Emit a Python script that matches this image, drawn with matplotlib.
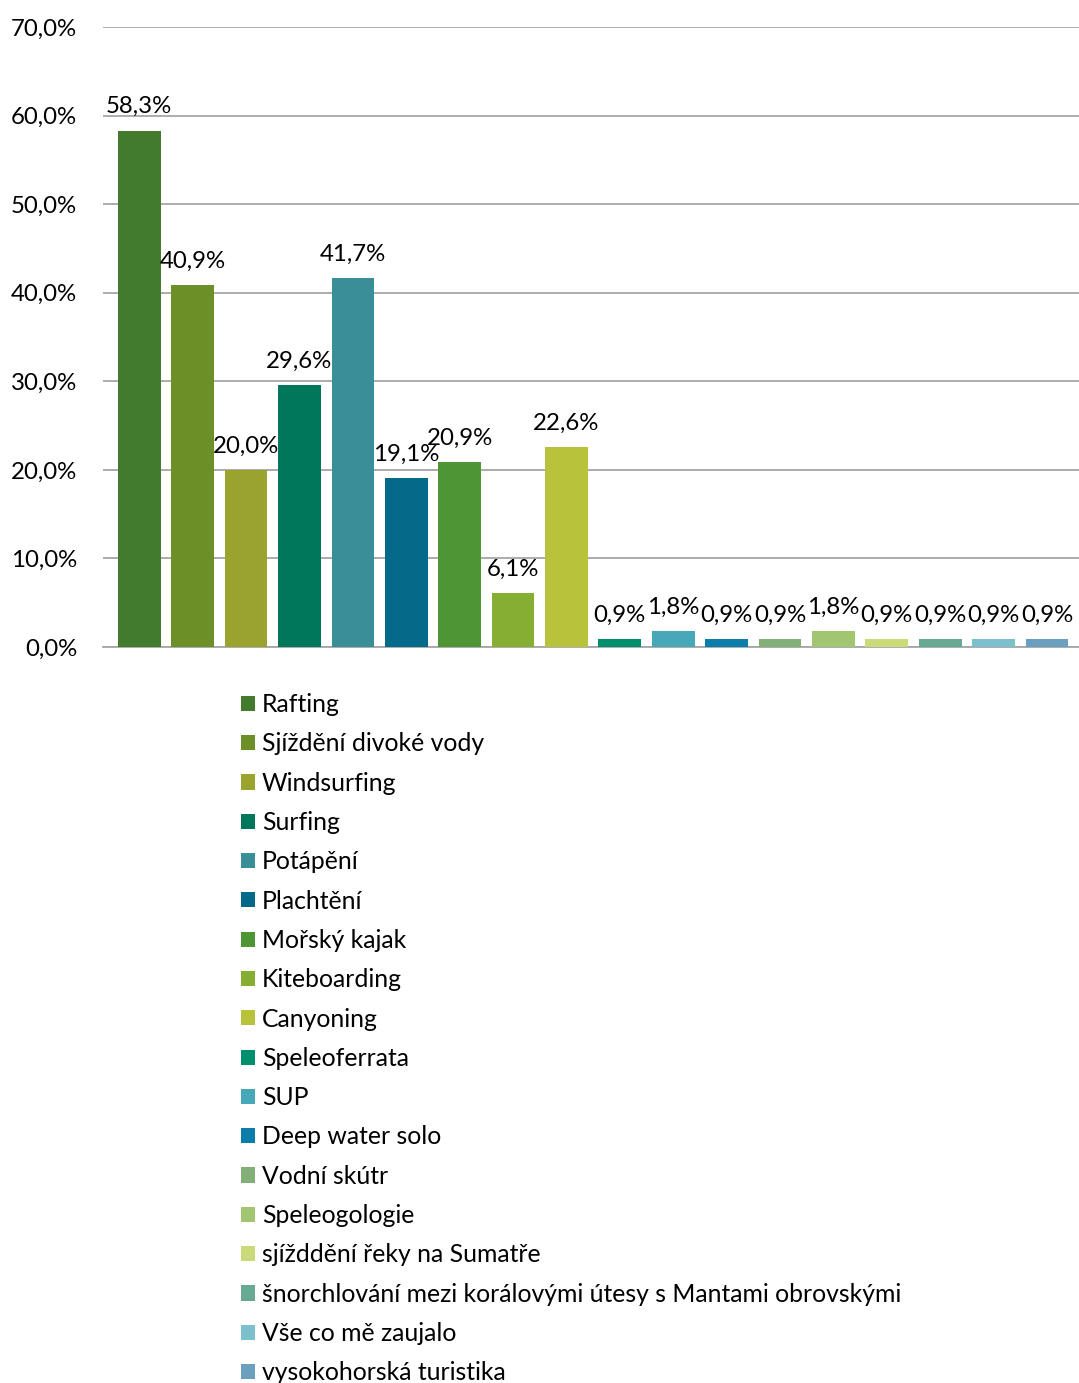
import matplotlib
matplotlib.use("Agg")
import matplotlib.pyplot as plt
from matplotlib.patches import Patch
from matplotlib.ticker import FuncFormatter

categories = ["Rafting", "Sjíždění divoké vody", "Windsurfing", "Surfing", "Potápění",
              "Plachtění", "Mořský kajak", "Kiteboarding", "Canyoning", "Speleoferrata",
              "SUP", "Deep water solo", "Vodní skútr", "Speleogologie",
              "sjížddění řeky na Sumatře",
              "šnorchlování mezi korálovými útesy s Mantami obrovskými",
              "Vše co mě zaujalo", "vysokohorská turistika"]
values = [58.3, 40.9, 20.0, 29.6, 41.7, 19.1, 20.9, 6.1, 22.6,
          0.9, 1.8, 0.9, 0.9, 1.8, 0.9, 0.9, 0.9, 0.9]
colors = ["#427A2E", "#6C8F27", "#9AA230", "#00765A", "#3A8E98", "#056A8A",
          "#4E9536", "#85AE32", "#B8C23A", "#008F6E", "#46A8B8", "#0A7EA8",
          "#82B077", "#A2C572", "#CBDA78", "#68A993", "#7CC0CE", "#6A9FC0"]
yticks = [0, 10, 20, 30, 40, 50, 60, 70]

plt.rcParams['font.family'] = ['Lato', 'DejaVu Sans']

W, H = 1079, 1383
fig = plt.figure(figsize=(W / 100, H / 100), dpi=100)
ax = fig.add_axes([103 / W, 1 - 647 / H, (W - 103) / W, (647 - 27) / H])

x = list(range(len(categories)))
ax.bar(x, values, width=0.8, color=colors, zorder=3)
ax.set_xlim(-0.68, 17.6)
ax.set_ylim(0, 70)
ax.set_yticks(yticks)
ax.yaxis.set_major_formatter(FuncFormatter(lambda v, p: f"{v:.1f}%".replace(".", ",")))
ax.tick_params(axis='y', length=0, pad=18.5, labelsize=17.3)
ax.set_xticks([])
ax.grid(axis='y', color='#A6A6A6', linewidth=1.3, zorder=0)
for s in ['top', 'right', 'left']:
    ax.spines[s].set_visible(False)
ax.spines['bottom'].set_color('#A6A6A6')
ax.spines['bottom'].set_linewidth(1.3)

for xi, v in zip(x, values):
    ax.text(xi, v + 1.5, f"{v:.1f}%".replace(".", ","), ha='center', va='bottom',
            fontsize=17.3, zorder=4)

handles = [Patch(facecolor=c, edgecolor='none') for c in colors]
fig.legend(handles, categories, loc='upper left', bbox_to_anchor=(241 / W, 1 - 693 / H),
           frameon=False, fontsize=17.8, handlelength=0.57, handleheight=0.57,
           handletextpad=0.28, labelspacing=0.66, borderaxespad=0, borderpad=0)

fig.savefig("out.png", dpi=100)
